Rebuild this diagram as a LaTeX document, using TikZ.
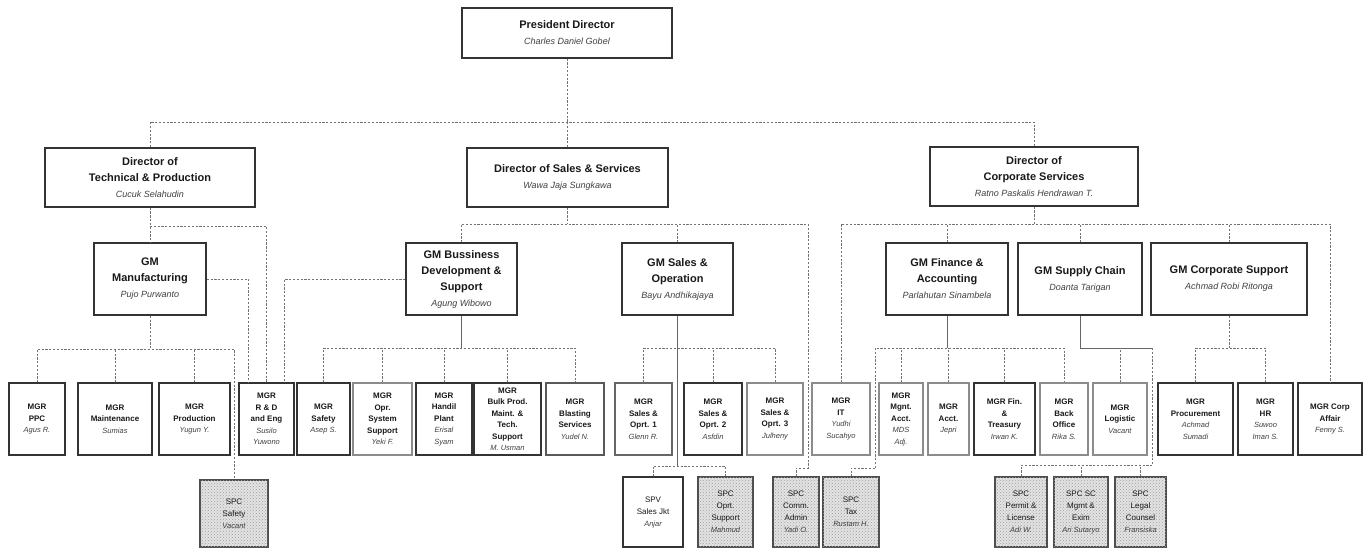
\documentclass[tikz,border=0pt]{standalone}
\usepackage{fontspec}
\setmainfont{Liberation Sans}
\usetikzlibrary{patterns}
\newcommand\nmd[1]{{\fontsize{9}{15}\selectfont\mdseries\itshape\color{black!75}#1}}
\newcommand\nmm[1]{{\fontsize{7.5}{11.5}\selectfont\mdseries\itshape\color{black!75}#1}}
\begin{document}
\begin{tikzpicture}[x=1pt,y=-1pt,
 box/.style={draw=black!80, line width=1.4pt, fill=white, inner sep=0pt, align=center, text=black!90},
 dirbox/.style={box, font=\fontsize{11}{16}\selectfont\bfseries},
 gmbox/.style={box, font=\fontsize{11}{16}\selectfont\bfseries, minimum height=72pt},
 mgr/.style={box, font=\fontsize{8}{11.5}\selectfont\bfseries, line width=1.3pt, minimum height=72pt},
 mgrl/.style={mgr, draw=black!45},
 spc/.style={box, draw=black!70, line width=1.2pt, font=\fontsize{8}{12}\selectfont, fill=gray!22, postaction={pattern=crosshatch dots, pattern color=gray!75}, minimum height=70pt},
 dl/.style={draw=black!55, line width=0.6pt, dash pattern=on 2.2pt off 1.6pt},
 sl/.style={draw=black!60, line width=0.6pt},
]
\fill[white] (0,0) rectangle (1370,548);
\useasboundingbox (0,0) rectangle (1370,548);

% levels
\coordinate (b122) at (0,122);
\coordinate (b224) at (0,224);
\coordinate (b226) at (0,226);
\coordinate (b348) at (0,348);
\coordinate (b349) at (0,349);
\coordinate (b466) at (0,466);
\coordinate (j1) at (808,468);
\coordinate (j2) at (875,468);
\coordinate (j3) at (1152,465);

% president and directors
\node[dirbox, minimum width=210pt, minimum height=50pt] (pres) at (567,33) {President Director\\\nmd{Charles Daniel Gobel}};
\node[dirbox, minimum width=210pt, minimum height=59pt] (dtp) at (150,177.5) {Director of\\Technical \& Production\\\nmd{Cucuk Selahudin}};
\node[dirbox, minimum width=201pt, minimum height=59pt] (dss) at (567.5,177.5) {Director of Sales \& Services\\\nmd{Wawa Jaja Sungkawa}};
\node[dirbox, minimum width=208pt, minimum height=59pt] (dco) at (1034,176.5) {Director of\\Corporate Services\\\nmd{Ratno Paskalis Hendrawan T.}};

% GMs
\node[gmbox, minimum width=112pt] (gmm) at (150,279) {GM\\Manufacturing\\\nmd{Pujo Purwanto}};
\node[gmbox, minimum width=111pt] (gmb) at (461.5,279) {GM Bussiness\\Development \&\\Support\\\nmd{Agung Wibowo}};
\node[gmbox, minimum width=111pt] (gms) at (677.5,279) {GM Sales \&\\Operation\\\nmd{Bayu Andhikajaya}};
\node[gmbox, minimum width=122pt] (gmf) at (947,279) {GM Finance \&\\Accounting\\\nmd{Parlahutan Sinambela}};
\node[gmbox, minimum width=124pt] (gmsc) at (1080,279) {GM Supply Chain\\\nmd{Doanta Tarigan}};
\node[gmbox, minimum width=156pt] (gmcs) at (1229,279) {GM Corporate Support\\\nmd{Achmad Robi Ritonga}};

% MGR row
\node[mgr, minimum width=56pt] (ppc) at (37,419) {MGR\\PPC\\\nmm{Agus R.}};
\node[mgr, minimum width=74pt] (mnt) at (115,419) {MGR\\Maintenance\\\nmm{Sumias}};
\node[mgr, minimum width=71pt] (prd) at (194.5,419) {MGR\\Production\\\nmm{Yugun Y.}};
\node[mgr, minimum width=55pt] (rnd) at (266.5,419) {MGR\\R \& D\\and Eng\\\nmm{Susilo}\\\nmm{Yuwono}};
\node[mgr, minimum width=53pt] (sft) at (323.5,419) {MGR\\Safety\\\nmm{Asep S.}};
\node[mgrl, minimum width=59pt] (oss) at (382.5,419) {MGR\\Opr.\\System\\Support\\\nmm{Yeki F.}};
\node[mgr, minimum width=56pt] (hnd) at (444,419) {MGR\\Handil\\Plant\\\nmm{Erisal}\\\nmm{Syam}};
\node[mgr, minimum width=67pt] (blk) at (507.5,419) {MGR\\Bulk Prod.\\Maint. \&\\Tech.\\Support\\\nmm{M. Usman}};
\node[mgr, draw=black!65, minimum width=58pt] (bls) at (575,419) {MGR\\Blasting\\Services\\\nmm{Yudel N.}};
\node[mgr, draw=black!60, minimum width=57pt] (so1) at (643.5,419) {MGR\\Sales \&\\Oprt. 1\\\nmm{Glenn R.}};
\node[mgr, minimum width=58pt] (so2) at (713,419) {MGR\\Sales \&\\Oprt. 2\\\nmm{Asfdin}};
\node[mgrl, minimum width=56pt] (so3) at (775,419) {MGR\\Sales \&\\Oprt. 3\\\nmm{Julheny}};
\node[mgrl, minimum width=58pt] (it) at (841,419) {MGR\\IT\\\nmm{Yudhi}\\\nmm{Sucahyo}};
\node[mgrl, minimum width=44pt] (mac) at (901,419) {MGR\\Mgnt.\\Acct.\\\nmm{MDS}\\\nmm{Adj.}};
\node[mgrl, minimum width=41pt] (act) at (948.5,419) {MGR\\Acct.\\\nmm{Jepri}};
\node[mgr, minimum width=61pt] (fin) at (1004.5,419) {MGR Fin.\\\&\\Treasury\\\nmm{Irwan K.}};
\node[mgrl, minimum width=48pt] (bko) at (1064,419) {MGR\\Back\\Office\\\nmm{Rika S.}};
\node[mgrl, minimum width=54pt] (lgs) at (1120,419) {MGR\\Logistic\\\nmm{Vacant}};
\node[mgr, minimum width=75pt] (prc) at (1195.5,419) {MGR\\Procurement\\\nmm{Achmad}\\\nmm{Sumadi}};
\node[mgr, minimum width=55pt] (hr) at (1265.5,419) {MGR\\HR\\\nmm{Suwoo}\\\nmm{Iman S.}};
\node[mgr, minimum width=64pt] (caf) at (1330,419) {MGR Corp\\Affair\\\nmm{Fenny S.}};

% SPC row
\node[spc, minimum width=68pt, minimum height=67pt] (ssf) at (234,513.5) {SPC\\Safety\\\nmm{Vacant}};
\node[mgr, fill=white, font=\fontsize{8}{12}\selectfont, minimum width=60pt, minimum height=70pt] (spv) at (653,512) {SPV\\Sales Jkt\\\nmm{Anjar}};
\node[spc, minimum width=55pt] (sos) at (725.5,512) {SPC\\Oprt.\\Support\\\nmm{Mahmud}};
\node[spc, minimum width=46pt] (sca) at (796,512) {SPC\\Comm.\\Admin\\\nmm{Yadi O.}};
\node[spc, minimum width=56pt] (stx) at (851,512) {SPC\\Tax\\\nmm{Rustam H.}};
\node[spc, minimum width=52pt] (spl) at (1021,512) {SPC\\Permit \&\\License\\\nmm{Adi W.}};
\node[spc, minimum width=54pt] (ssc) at (1081,512) {SPC SC\\Mgmt \&\\Exim\\\nmm{Ari Sutaryo}};
\node[spc, minimum width=51pt] (slc) at (1140.5,512) {SPC\\Legal\\Counsel\\\nmm{Fransiska}};

% president to directors
\draw[dl] (pres.south) -- (pres.south |- b122);
\draw[dl] (dtp.north) -- (dtp.north |- b122) -- (dco.north |- b122) -- (dco.north);
\draw[dl] (dss.north) -- (dss.north |- b122);

% director technical
\draw[dl] (dtp.south) -- (gmm.north);
\draw[dl] (dtp.south |- b226) -| (rnd.north);

% GM manufacturing
\draw[dl] (gmm.east) -| ([xshift=-18pt]rnd.north);
\draw[dl] (gmm.south) -- (gmm.south |- b349);
\draw[dl] (ppc.north) |- (ssf.north |- b349) -- (ssf.north);
\draw[dl] (mnt.north) -- (mnt.north |- b349);
\draw[dl] (prd.north) -- (prd.north |- b349);

% director sales
\draw[dl] (dss.south) -- (dss.south |- b224);
\draw[dl] (gmb.north) |- (j1 |- b224) -- (j1) -| (sca.north);
\draw[dl] (gms.north) -- (gms.north |- b224);

% GM business development
\draw[dl] (gmb.west) -| ([xshift=18pt]rnd.north);
\draw[sl] (gmb.south) -- (gmb.south |- b348);
\draw[dl] (sft.north) |- (bls.north |- b348) -- (bls.north);
\draw[dl] (oss.north) -- (oss.north |- b348);
\draw[dl] (hnd.north) -- (hnd.north |- b348);
\draw[dl] (blk.north) -- (blk.north |- b348);

% GM sales
\draw[dl] (so1.north) |- (so3.north |- b348) -- (so3.north);
\draw[dl] (so2.north) -- (so2.north |- b348);
\draw[sl] (gms.south) -- (gms.south |- b466);
\draw[dl] (spv.north) |- (sos.north |- b466) -- (sos.north);

% director corporate
\draw[dl] (dco.south) -- (dco.south |- b224);
\draw[dl] (it.north) |- (caf.north |- b224) -- (caf.north);
\draw[dl] (gmf.north) -- (gmf.north |- b224);
\draw[dl] (gmsc.north) -- (gmsc.north |- b224);
\draw[dl] (gmcs.north) -- (gmcs.north |- b224);

% GM finance
\draw[sl] (gmf.south) -- (gmf.south |- b348);
\draw[dl] (j2) |- (bko.north |- b348) -- (bko.north);
\draw[dl] (j2) -| (stx.north);
\draw[dl] (mac.north) -- (mac.north |- b348);
\draw[dl] (act.north) -- (act.north |- b348);
\draw[dl] (fin.north) -- (fin.north |- b348);

% GM supply chain
\draw[sl] (gmsc.south) |- (j3 |- b348);
\draw[dl] (j3 |- b348) -- (j3);
\draw[dl] (lgs.north) -- (lgs.north |- b348);
\draw[dl] (spl.north) |- (j3);
\draw[dl] (ssc.north) -- (ssc.north |- j3);
\draw[dl] (slc.north) -- (slc.north |- j3);

% GM corporate support
\draw[dl] (gmcs.south) -- (gmcs.south |- b348);
\draw[dl] (prc.north) |- (hr.north |- b348) -- (hr.north);
\end{tikzpicture}
\end{document}
